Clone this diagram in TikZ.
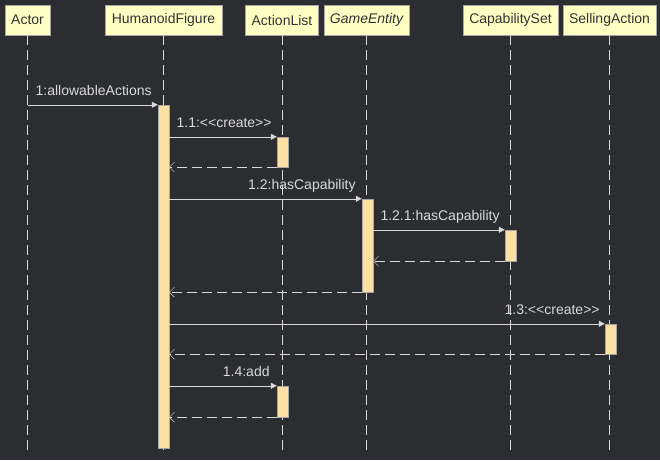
\documentclass[tikz,border=0pt]{standalone}
\usepackage{fontspec}
\setmainfont{Liberation Sans}[Ligatures=TeXOff]
\usetikzlibrary{arrows.meta}
\definecolor{nen}{HTML}{2B2D31}
\definecolor{vang}{HTML}{FFFFC4}
\definecolor{cam}{HTML}{FFE0A4}
\definecolor{vien}{HTML}{A6A6A6}
\definecolor{chu}{HTML}{D9D9D9}
\begin{document}
\begin{tikzpicture}[x=1pt,y=-1pt,
		doituong/.style={draw=vien,fill=vang,text=black!80,minimum height=30pt,inner xsep=6pt,font=\fontsize{14}{16}\selectfont},
		duongdoi/.style={chu,dash pattern=on 10pt off 5pt},
		kichhoat/.style={draw=vien,fill=cam,minimum width=11pt,inner sep=0pt},
		goi/.style={chu,-{Triangle[length=6pt,width=6pt]}},
		tra/.style={chu,dash pattern=on 10pt off 5pt,-{Straight Barb[length=5pt,width=10pt]}},
		nhan/.style={text=chu,anchor=base east,inner sep=0pt,font=\fontsize{14}{16}\selectfont}]
		\fill[nen] (0,0) rectangle (660,460);
		% Các đối tượng
		\node[doituong,minimum width=45pt] (actor) at (27.5,20) {Actor};
		\node[doituong,minimum width=117pt] (hf) at (163.5,20) {HumanoidFigure};
		\node[doituong,minimum width=72pt] (al) at (282,20) {ActionList};
		\node[doituong,minimum width=83pt] (ge) at (366.5,20) {\itshape GameEntity};
		\node[doituong,minimum width=95pt] (cs) at (510.5,20) {CapabilitySet};
		\node[doituong,minimum width=91pt] (sa) at (609.5,20) {SellingAction};
		% Đường đời
		\coordinate (day) at (0,450);
		\foreach \dt in {actor,hf,al,ge,cs,sa}
			\draw[duongdoi] (\dt.south) -- (\dt.south |- day);
		% Thanh kích hoạt
		\node[kichhoat,minimum height=343pt] (k1) at (163.5,276.5) {};
		\node[kichhoat,minimum height=30pt] (k2) at (282.5,152) {};
		\node[kichhoat,minimum height=93pt] (k3) at (367.5,245.5) {};
		\node[kichhoat,minimum height=31pt] (k4) at (510.5,245.5) {};
		\node[kichhoat,minimum height=30pt] (k5) at (610.5,339) {};
		\node[kichhoat,minimum height=31pt] (k6) at (282.5,401.5) {};
		% Thông điệp
		\draw[goi] (actor |- k1.north) -- (k1.north west);
		\node[nhan] (n1) at ([xshift=-6pt,yshift=9pt]k1.north west) {1:allowableActions};
		\draw[goi] (k1.east |- k2.north) -- (k2.north west);
		\node[nhan] (n11) at ([xshift=-5pt,yshift=9pt]k2.north west) {1.1:<<create>>};
		\draw[tra] (k2.south west) -- (k1.east |- k2.south);
		\draw[goi] (k1.east |- k3.north) -- (k3.north west);
		\node[nhan] (n12) at ([xshift=-6pt,yshift=9pt]k3.north west) {1.2:hasCapability};
		\draw[goi] (k3.east |- k4.north) -- (k4.north west);
		\node[nhan] (n121) at ([xshift=-5pt,yshift=9pt]k4.north west) {1.2.1:hasCapability};
		\draw[tra] (k4.south west) -- (k3.east |- k4.south);
		\draw[tra] (k3.south west) -- (k1.east |- k3.south);
		\draw[goi] (k1.east |- k5.north) -- (k5.north west);
		\node[nhan] (n13) at ([xshift=-5pt,yshift=9pt]k5.north west) {1.3:<<create>>};
		\draw[tra] (k5.south west) -- (k1.east |- k5.south);
		\draw[goi] (k1.east |- k6.north) -- (k6.north west);
		\node[nhan] (n14) at ([xshift=-7pt,yshift=9pt]k6.north west) {1.4:add};
		\draw[tra] (k6.south west) -- (k1.east |- k6.south);
\end{tikzpicture}
\end{document}
